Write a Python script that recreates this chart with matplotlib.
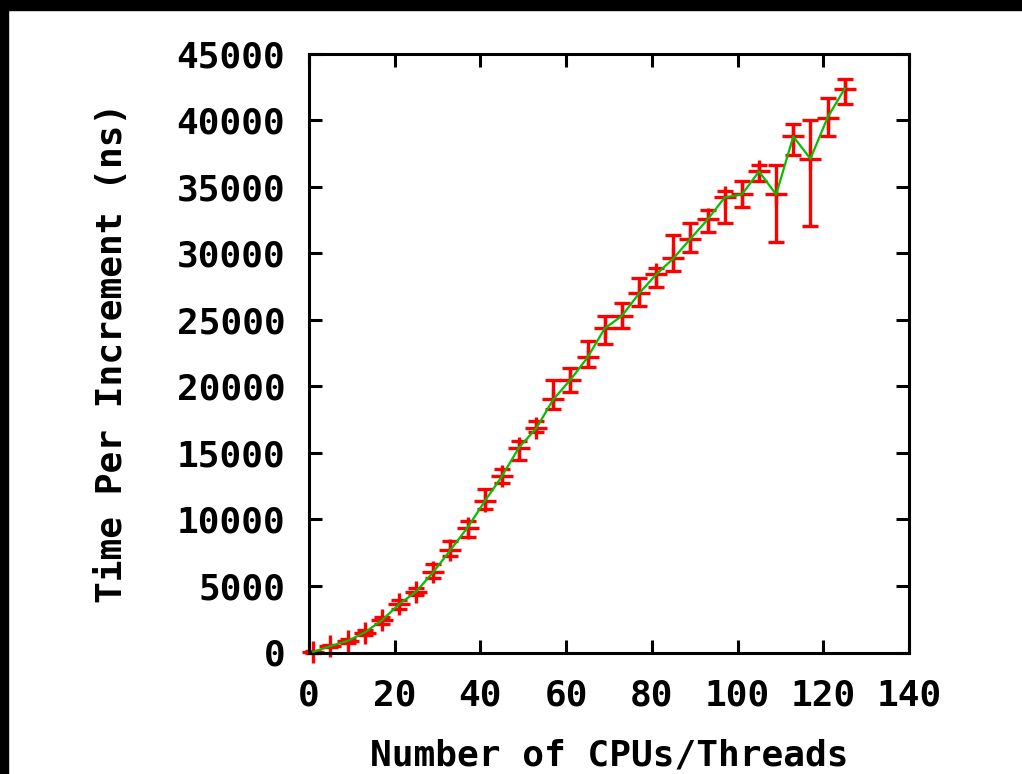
import matplotlib
matplotlib.use("Agg")
import matplotlib.pyplot as plt
from matplotlib.patches import Rectangle

# Number of CPUs/threads and measured time per increment (ns),
# with the low/high ends of each error bar
threads = [1, 5, 9, 13, 17, 21, 25, 29, 33, 37, 41, 45, 49, 53, 57, 61,
           65, 69, 73, 77, 81, 85, 89, 93, 97, 101, 105, 109, 113, 117, 121, 125]
time_ns = [50, 480, 870, 1500, 2420, 3620, 4580, 6040, 7700, 9390, 11360, 13230,
           15400, 16830, 19010, 20490, 22170, 24350, 25290, 26970, 28400, 29600,
           31080, 32530, 34190, 34410, 36140, 34410, 38770, 37090, 40190, 42370]
time_low = [0, 380, 700, 1300, 2150, 3300, 4300, 5570, 7240, 8690, 10810, 12770,
            14430, 16580, 18310, 19540, 21420, 23140, 24350, 26020, 27450, 28650,
            30100, 31580, 32280, 33480, 35390, 30810, 37340, 32030, 38770, 41170]
time_high = [120, 600, 1050, 1700, 2700, 3950, 4850, 6620, 8400, 9890, 12260, 13750,
             15900, 17380, 20490, 21410, 23390, 25290, 26220, 28170, 28900, 31330,
             32280, 33230, 34680, 35400, 36590, 36590, 39740, 39970, 41620, 43120]

err_lo = [m - lo for m, lo in zip(time_ns, time_low)]
err_hi = [hi - m for m, hi in zip(time_ns, time_high)]

plt.rcParams['font.family'] = ['DejaVu Sans Mono']
plt.rcParams['font.weight'] = 'bold'
plt.rcParams['axes.labelweight'] = 'bold'

W, H = 1022, 774
fig = plt.figure(figsize=(W / 100, H / 100), dpi=100)
ax = fig.add_axes([309 / W, 1 - 652.5 / H, 600 / W, 599 / H])

# red error bars with "+" points, green connecting line on top
ax.errorbar(threads, time_ns, yerr=[err_lo, err_hi], fmt='+', color='#ff0000',
            ms=15.5, mew=2.4, elinewidth=2.4, capsize=5.8, capthick=2.4,
            zorder=2, clip_on=False)
ax.plot(threads, time_ns, color='#00c000', lw=1.6, zorder=3)

ax.set_xlim(0, 140)
ax.set_ylim(0, 45000)
ax.set_xticks(range(0, 141, 20))
ax.set_yticks(range(0, 45001, 5000))

for s in ax.spines.values():
    s.set_linewidth(2.2)
ax.tick_params(direction='in', length=9.4, width=2.2, top=True, right=True,
               labelsize=26)
ax.tick_params(axis='x', pad=19)
ax.tick_params(axis='y', pad=17)

ax.set_xlabel('Number of CPUs/Threads', fontsize=26, fontweight='bold')
ax.set_ylabel('Time Per Increment (ns)', fontsize=26, fontweight='bold')
ax.xaxis.set_label_coords(0.5, -0.143)
ax.yaxis.set_label_coords(-0.30, 0.5)

# black frame strips along the top and left edges
fig.patches.append(Rectangle((0, 1 - 10 / H), 1, 10 / H, transform=fig.transFigure,
                             color='black', zorder=10))
fig.patches.append(Rectangle((0, 0), 8 / W, 1, transform=fig.transFigure,
                             color='black', zorder=10))

fig.savefig('out.png', dpi=100)
